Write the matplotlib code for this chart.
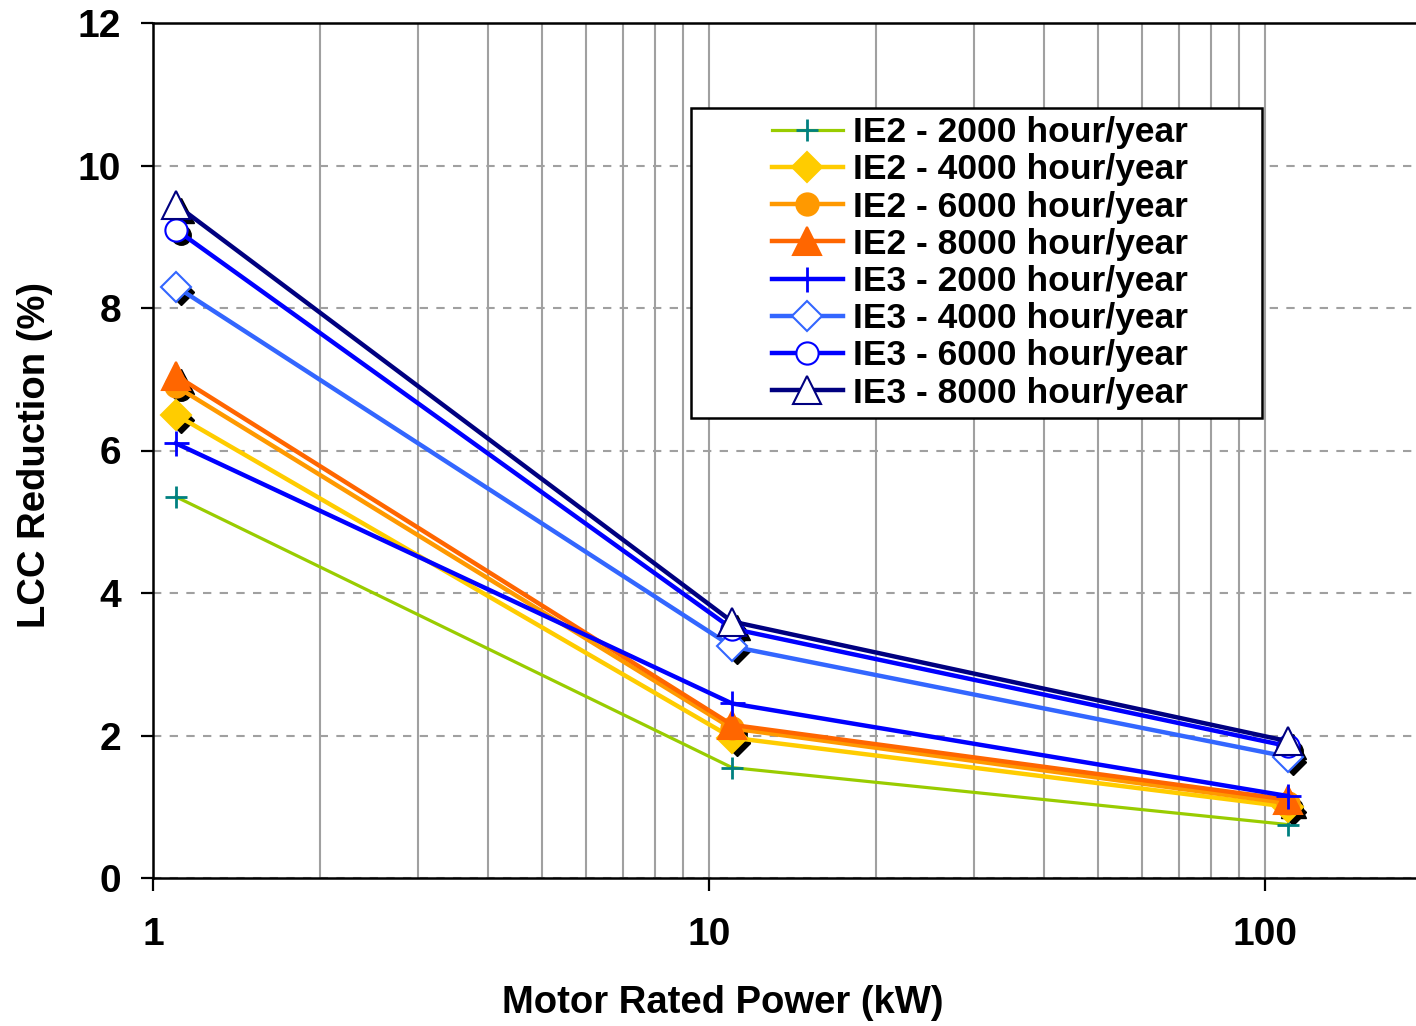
import matplotlib
matplotlib.use("Agg")
import matplotlib.pyplot as plt
import matplotlib.transforms as mtransforms
from matplotlib.patches import Rectangle
from matplotlib.ticker import LogLocator, NullFormatter, FixedLocator

plt.rcParams["font.family"] = ["Liberation Sans", "DejaVu Sans"]
plt.rcParams["font.weight"] = "bold"

# motor sizes (kW)
power = [1.1, 11, 110]

labels = [
    "IE2 - 2000 hour/year", "IE2 - 4000 hour/year",
    "IE2 - 6000 hour/year", "IE2 - 8000 hour/year",
    "IE3 - 2000 hour/year", "IE3 - 4000 hour/year",
    "IE3 - 6000 hour/year", "IE3 - 8000 hour/year",
]
ie2_2000 = [5.35, 1.55, 0.75]
ie2_4000 = [6.5, 1.97, 1.0]
ie2_6000 = [6.9, 2.1, 1.05]
ie2_8000 = [7.05, 2.15, 1.1]
ie3_2000 = [6.1, 2.45, 1.15]
ie3_4000 = [8.3, 3.25, 1.7]
ie3_6000 = [9.1, 3.5, 1.85]
ie3_8000 = [9.45, 3.6, 1.92]
series = [ie2_2000, ie2_4000, ie2_6000, ie2_8000,
          ie3_2000, ie3_4000, ie3_6000, ie3_8000]

line_colors = ["#99cc00", "#ffcc00", "#ff9900", "#ff6600",
               "#0000ff", "#3366ff", "#0000ff", "#000080"]
markers = ["+", "D", "o", "^", "+", "D", "o", "^"]
mfaces = ["#008080", "#ffcc00", "#ff9900", "#ff6600",
          "#0000ff", "white", "white", "white"]
medges = ["#008080", "#ffcc00", "#ff9900", "#ff6600",
          "#0000ff", "#3366ff", "#0000ff", "#000080"]
msizes = [16, 15, 16, 20, 18, 15, 16, 20]
lws = [2.3, 3.2, 3.2, 3.2, 3.2, 3.2, 3.2, 3.2]

fig = plt.figure(figsize=(14.16, 10.26), dpi=100)
ax = fig.add_axes([153/1416, 148/1026, 1 - 153/1416, 855/1026])

for i, vals in enumerate(series):
    if markers[i] != "+":
        shadow = mtransforms.offset_copy(ax.transData, fig=fig, x=5, y=-5, units="dots")
        ax.plot(power, vals, linestyle="none", marker=markers[i], ms=msizes[i] - 2,
                mfc="black", mec="black", transform=shadow, zorder=2)
    ax.plot(power, vals, color=line_colors[i], lw=lws[i], marker=markers[i],
            ms=msizes[i], mfc=mfaces[i], mec=medges[i], mew=2 if markers[i] == "+" else 1.5,
            label=labels[i], zorder=3 + i * 0.1)

ax.set_xscale("log")
ax.set_xlim(1, 187)
ax.set_ylim(0, 12)
ax.set_yticks(range(0, 13, 2))
ax.xaxis.set_major_locator(FixedLocator([1, 10, 100]))
ax.set_xticklabels(["1", "10", "100"])
ax.xaxis.set_minor_locator(LogLocator(base=10, subs=range(2, 10)))
ax.xaxis.set_minor_formatter(NullFormatter())

ax.grid(True, axis="x", which="both", color="#a0a0a0", lw=1.5, ls="-")
ax.grid(True, axis="y", which="major", color="#a0a0a0", lw=1.5, ls=(0, (4, 4)))
ax.tick_params(axis="x", which="minor", length=0)
ax.tick_params(axis="both", which="major", direction="out", length=9, width=1.6,
               labelsize=28, pad=14)
ax.tick_params(axis="x", which="major", pad=19)
for t in ax.get_xticklabels() + ax.get_yticklabels():
    t.set_fontweight("bold")

ax.spines["right"].set_visible(False)
for s in ["left", "bottom", "top"]:
    ax.spines[s].set_linewidth(1.8)

ax.set_xlabel("Motor Rated Power (kW)", fontsize=27.5, fontweight="bold", va="center")
ax.set_ylabel("LCC Reduction (%)", fontsize=27.5, fontweight="bold", va="center")
ax.xaxis.set_label_coords((723 - 153) / 1263, (878 - 1003) / 855)
ax.yaxis.set_label_coords((35 - 153) / 1263, (878 - 455) / 855)

# legend box drawn separately so the handles sit inset like the original
box = Rectangle((691 / 1416, 1 - 418 / 1026), (1262 - 691) / 1416, (418 - 108) / 1026,
                transform=fig.transFigure, facecolor="white", edgecolor="black",
                lw=1.8, zorder=5, clip_on=False)
ax.add_patch(box)
leg = ax.legend(loc="upper left", bbox_to_anchor=(772 / 1416, 1 - 116 / 1026),
                bbox_transform=fig.transFigure,
                fontsize=25.5, frameon=False, handlelength=2.0,
                labelspacing=0.12, borderpad=0, handletextpad=0.3, borderaxespad=0)
leg.set_zorder(6)
for t in leg.get_texts():
    t.set_fontweight("bold")

fig.savefig("out.png", dpi=100)
